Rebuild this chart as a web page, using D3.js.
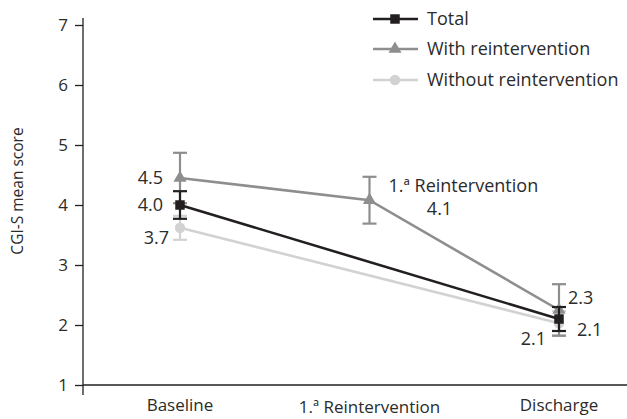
<!DOCTYPE html>
<html><head><meta charset="utf-8">
<script src="https://cdn.jsdelivr.net/npm/d3@7"></script>
<style>
body{margin:0;background:#fff;}
text{font-family:"Open Sans",sans-serif;fill:#2b2b2b;}
</style></head>
<body><svg id="c" width="627" height="419"></svg>
<script>
const categories = ["Baseline", "1.ª Reintervention", "Discharge"];
const seriesNames = ["Total", "With reintervention", "Without reintervention"];
const totalMean = [4.0, null, 2.1];
const totalErr  = [0.23, null, 0.2];
const withMean  = [4.45, 4.08, 2.25];
const withErr   = [0.42, 0.39, 0.43];
const withoutMean = [3.62, null, 2.03];
const withoutErr  = [0.2, null, 0.2];
const yTicks = [1, 2, 3, 4, 5, 6, 7];
const labelTotal = ["4.0", null, "2.1"];
const labelWith = ["4.5", "4.1", "2.3"];
const labelWithout = ["3.7", null, "2.1"];

const svg = d3.select("#c");
const x = d3.scalePoint().domain(categories).range([180, 559]);
const y = d3.scaleLinear().domain([1, 7]).range([385, 25]);

const colors = {"Total":"#231f20","With reintervention":"#8e8e8e","Without reintervention":"#d2d2d2"};
const series = [
  {name:"Without reintervention", mean:withoutMean, err:withoutErr, shape:d3.symbolCircle, size:85},
  {name:"With reintervention", mean:withMean, err:withErr, shape:d3.symbolTriangle, size:75},
  {name:"Total", mean:totalMean, err:totalErr, shape:d3.symbolSquare, size:90}
];

// axes
const yAxis = d3.axisLeft(y).tickValues(yTicks).tickSize(8).tickPadding(7).tickFormat(d3.format("d"));
const ga = svg.append("g").attr("transform","translate(83,0)").call(yAxis);
ga.select(".domain").remove();
ga.selectAll("line").attr("stroke","#231f20").attr("stroke-width",1.3);
ga.selectAll("text").style("font-size","17px").attr("fill","#2b2b2b");
svg.append("line").attr("x1",83).attr("x2",83).attr("y1",18).attr("y2",395).attr("stroke","#231f20").attr("stroke-width",1.3);
svg.append("line").attr("x1",83).attr("x2",627).attr("y1",y(1)).attr("y2",y(1)).attr("stroke","#231f20").attr("stroke-width",1.3);

svg.append("text").attr("transform","translate(23,191) rotate(-90)").attr("text-anchor","middle")
  .style("font-size","15.5px").text("CGI-S mean score");

// x labels
const xl = svg.append("g").attr("transform","translate(0,411)");
categories.forEach((c,i)=>{
  xl.append("text").attr("x",x(c)).attr("y", i===1?2:0).attr("text-anchor","middle")
    .style("font-size","17px").text(c);
});

// lines
const line = d3.line().defined(d=>d.v!=null).x(d=>x(d.c)).y(d=>y(d.v));
series.forEach(s=>{
  const pts = categories.map((c,i)=>({c, v:s.mean[i], e:s.err[i]})).filter(d=>d.v!=null);
  svg.append("path").datum(pts).attr("d",line).attr("fill","none")
    .attr("stroke",colors[s.name]).attr("stroke-width",2.6);
});
// error bars + markers
series.forEach(s=>{
  const pts = categories.map((c,i)=>({c, v:s.mean[i], e:s.err[i]})).filter(d=>d.v!=null);
  const g = svg.append("g").attr("stroke",colors[s.name]).attr("stroke-width",2.2);
  pts.forEach(d=>{
    const cx = x(d.c);
    g.append("line").attr("x1",cx).attr("x2",cx).attr("y1",y(d.v+d.e)).attr("y2",y(d.v-d.e));
    [d.v+d.e, d.v-d.e].forEach(v=>g.append("line").attr("x1",cx-7).attr("x2",cx+7).attr("y1",y(v)).attr("y2",y(v)));
  });
  svg.append("g").selectAll("path").data(pts).join("path")
    .attr("transform",d=>`translate(${x(d.c)},${y(d.v)})`)
    .attr("d",d3.symbol().type(s.shape).size(s.size))
    .attr("fill",colors[s.name]);
});

// data labels
const lab = (txt, px, py, anchor) => svg.append("text").attr("x",px).attr("y",py).attr("dy","0.35em")
  .attr("text-anchor",anchor).style("font-size","18px").text(txt);
lab(labelWith[0], x(categories[0])-17, y(withMean[0]), "end");
lab(labelTotal[0], x(categories[0])-17, y(totalMean[0]), "end");
lab(labelWithout[0], x(categories[0])-11, y(withoutMean[0])+10, "end");
lab(categories[1], x(categories[1])+19, y(withMean[1])-15, "start");
lab(labelWith[1], x(categories[1])+70, y(withMean[1])+8, "middle");
lab(labelWith[2], x(categories[2])+9, y(withMean[2])-12, "start");
lab(labelTotal[2], x(categories[2])+18, y(totalMean[2])+11, "start");
lab(labelWithout[2], x(categories[2])-13, y(withoutMean[2])+15, "end");

// legend
const lg = svg.append("g").attr("transform","translate(373,0)");
const legendY = [19, 49, 80];
const legendSeries = [series[2], series[1], series[0]];
legendSeries.forEach((s,i)=>{
  const yy = legendY[i];
  lg.append("line").attr("x1",0).attr("x2",45).attr("y1",yy).attr("y2",yy).attr("stroke",colors[s.name]).attr("stroke-width",2.6);
  lg.append("path").attr("transform",`translate(22,${yy})`).attr("d",d3.symbol().type(s.shape).size(s.size)).attr("fill",colors[s.name]);
  lg.append("text").attr("x",54).attr("y",yy).attr("dy","0.35em").style("font-size","18px").text(s.name);
});
</script></body></html>
